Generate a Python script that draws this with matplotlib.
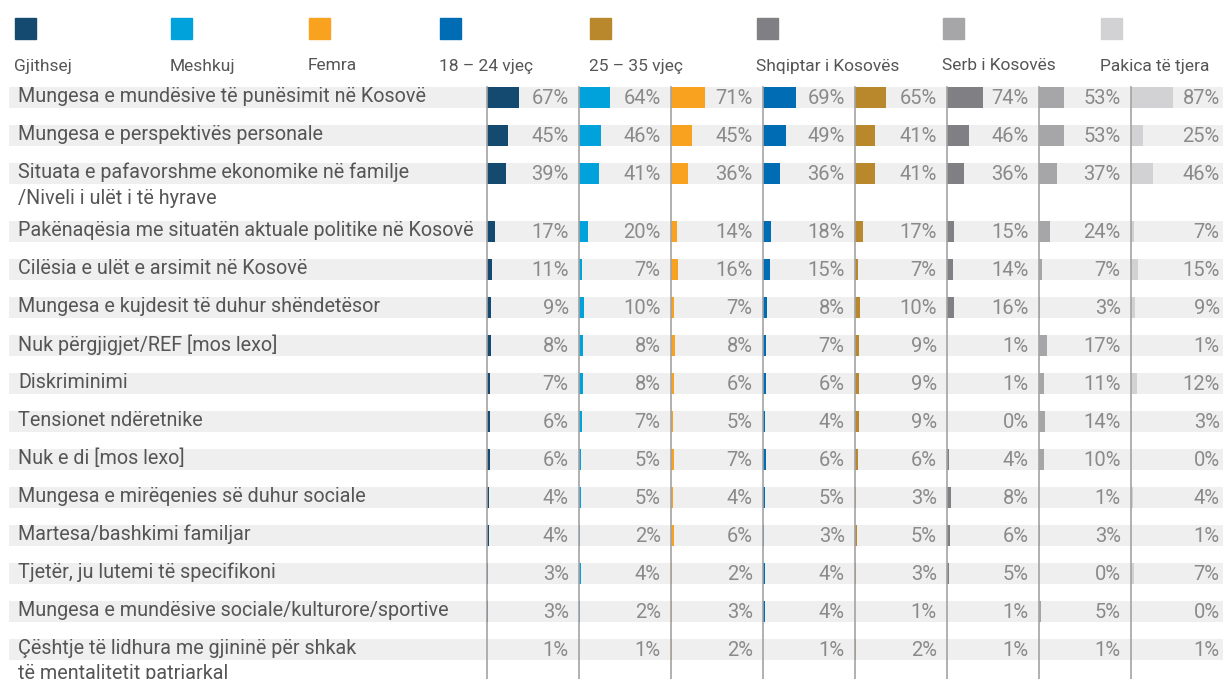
import numpy as np
import matplotlib
matplotlib.use("Agg")
import matplotlib.pyplot as plt
from matplotlib.patches import Rectangle

plt.rcParams["font.family"] = ["Roboto", "DejaVu Sans"]

# -----------------------
# Data
# -----------------------
reasons = [
    "Mungesa e mundësive të punësimit në Kosovë",
    "Mungesa e perspektivës personale",
    "Situata e pafavorshme ekonomike në familje\n/Niveli i ulët i të hyrave",
    "Pakënaqësia me situatën aktuale politike në Kosovë",
    "Cilësia e ulët e arsimit në Kosovë",
    "Mungesa e kujdesit të duhur shëndetësor",
    "Nuk përgjigjet/REF [mos lexo]",
    "Diskriminimi",
    "Tensionet ndëretnike",
    "Nuk e di [mos lexo]",
    "Mungesa e mirëqenies së duhur sociale",
    "Martesa/bashkimi familjar",
    "Tjetër, ju lutemi të specifikoni",
    "Mungesa e mundësive sociale/kulturore/sportive",
    "Çështje të lidhura me gjininë për shkak\ntë mentalitetit patriarkal",
]

groups = ["Gjithsej", "Meshkuj", "Femra", "18 – 24 vjeç", "25 – 35 vjeç",
          "Shqiptar i Kosovës", "Serb i Kosovës", "Pakica të tjera"]

gjithsej = [67, 45, 39, 17, 11, 9, 8, 7, 6, 6, 4, 4, 3, 3, 1]
meshkuj = [64, 46, 41, 20, 7, 10, 8, 8, 7, 5, 5, 2, 4, 2, 1]
femra = [71, 45, 36, 14, 16, 7, 8, 6, 5, 7, 4, 6, 2, 3, 2]
age_18_24 = [69, 49, 36, 18, 15, 8, 7, 6, 4, 6, 5, 3, 4, 4, 1]
age_25_35 = [65, 41, 41, 17, 7, 10, 9, 9, 9, 6, 3, 5, 3, 1, 2]
shqiptar = [74, 46, 36, 15, 14, 16, 1, 1, 0, 4, 8, 6, 5, 1, 1]
serb = [53, 53, 37, 24, 7, 3, 17, 11, 14, 10, 1, 3, 0, 5, 1]
pakica = [87, 25, 46, 7, 15, 9, 1, 12, 3, 0, 4, 1, 7, 0, 1]

series = [gjithsej, meshkuj, femra, age_18_24, age_25_35, shqiptar, serb, pakica]
colors = ["#154a70", "#00a2db", "#f8a21f", "#006cb4", "#b9872c",
          "#807f83", "#a6a6a9", "#d2d2d4"]

# -----------------------
# Layout (pixels)
# -----------------------
W, H = 1223, 679
fig = plt.figure(figsize=(W / 100, H / 100), dpi=100)


def px_box(x0, y0, x1, y1):
    return [x0 / W, 1 - y1 / H, (x1 - x0) / W, (y1 - y0) / H]


ROW_PX = 38
BAR_H = 21 / ROW_PX
ypos = np.arange(len(reasons)) + np.where(np.arange(len(reasons)) >= 3, 20 / ROW_PX, 0)
y_top = -10 / ROW_PX
y_bot = y_top + (H - 87) / ROW_PX
XMAX = 190

# background bands + row labels
bg = fig.add_axes(px_box(9, 87, W, H))
bg.barh(ypos, 1, height=BAR_H, left=0, color="#efefef", zorder=0)
bg.set_xlim(0, 1)
bg.set_ylim(y_bot, y_top)
bg.axis("off")
for y, lab in zip(ypos, reasons):
    bg.text(0.0075, y - BAR_H / 2 + 0.01, lab, ha="left", va="top",
            fontsize=14.2, color="#555555", linespacing=1.42)

# one panel per group
panel_left = 486.7
for k, (vals, col) in enumerate(zip(series, colors)):
    x0 = panel_left + k * 92
    ax = fig.add_axes(px_box(x0, 87, x0 + 92, H))
    ax.patch.set_alpha(0)
    ax.barh(ypos, vals, height=BAR_H, color=col, zorder=2)
    ax.set_xlim(0, XMAX)
    ax.set_ylim(y_bot, y_top)
    for s in ["top", "right", "bottom"]:
        ax.spines[s].set_visible(False)
    ax.spines["left"].set_color("#a3a3a3")
    ax.spines["left"].set_linewidth(1.2)
    ax.set_xticks([])
    ax.set_yticks([])
    label_x = XMAX * (89 if k == len(series) - 1 else 82) / 92
    for y, v in zip(ypos, vals):
        ax.text(label_x, y + 0.03, f"{v}%", ha="right", va="center",
                fontsize=14.5, color="#8a8a8a")

# legend: square above label
legend_x = [15, 171, 309, 440, 590, 757, 943, 1101]
for lx, name, col in zip(legend_x, groups, colors):
    fig.patches.append(Rectangle((lx / W, 1 - 39 / H), 21 / W, 21 / H,
                                 transform=fig.transFigure, color=col))
    fig.text((lx - 1) / W, 1 - 66 / H, name, ha="left", va="center",
             fontsize=12.5, color="#555555")

fig.savefig("out.png", dpi=100)
